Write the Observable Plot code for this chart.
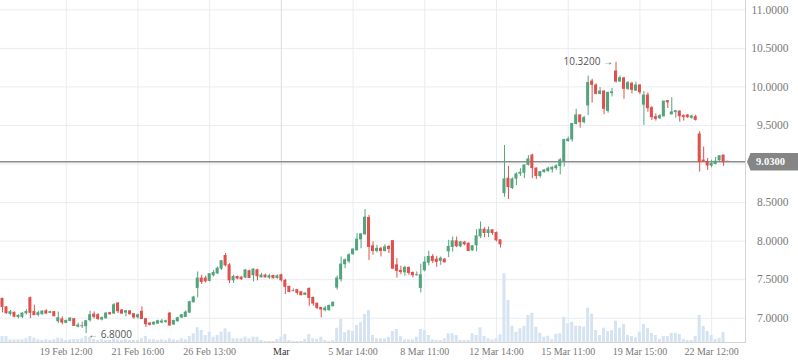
<!DOCTYPE html>
<html><head><meta charset="utf-8">
<script src="https://cdn.jsdelivr.net/npm/d3@7"></script>
<script src="https://cdn.jsdelivr.net/npm/@observablehq/plot@0.6"></script>
<style>
html,body{margin:0;padding:0;background:#fff;}
#chart{position:relative;width:798px;height:363px;}
#chart svg{position:absolute;left:0;top:0;}
</style></head><body><div id="chart"></div>
<script>
const open = [
7.25,7.14,7.056,7.07,7.017,7.017,7.065,7.26,7.08,7.043,
7.052,7.09,7.07,7.078,6.96,6.983,6.94,6.965,6.987,6.89,
6.896,6.896,6.974,7.047,7.039,6.983,7.0,7.065,7.06,7.19,
7.1,7.073,7.09,7.052,7.013,7.082,6.987,6.93,6.92,6.93,
6.944,6.952,7.06,6.918,6.96,7.009,7.017,7.073,7.207,7.393,
7.514,7.514,7.484,7.557,7.58,7.643,7.807,7.686,7.492,7.535,
7.527,7.527,7.609,7.557,7.622,7.53,7.553,7.527,7.548,7.522,
7.557,7.484,7.406,7.35,7.363,7.337,7.302,7.38,7.263,7.186,
7.134,7.104,7.104,7.155,7.397,7.505,7.7,7.738,7.83,7.88,
8.023,8.088,8.3,7.933,7.872,7.9,7.872,7.924,8.0,7.686,
7.613,7.596,7.652,7.587,7.557,7.393,7.622,7.721,7.795,7.76,
7.743,7.76,7.868,7.924,7.997,7.933,7.98,7.967,7.88,7.946,
8.062,8.148,8.105,8.14,8.105,8.01,8.623,8.81,8.688,8.81,
8.874,8.887,8.99,9.11,8.94,8.844,8.895,8.908,8.93,8.947,
8.973,9.04,9.297,9.318,9.52,9.63,9.543,9.76,10.07,10.018,
9.91,9.94,9.69,9.92,10.2,10.07,10.11,9.975,10.04,9.953,
10.018,9.77,9.888,9.724,9.607,9.595,9.617,9.815,9.643,9.673,
9.68,9.62,9.63,9.6,9.608,9.383,9.045,9.025,8.98,9.0,
9.047,9.11,9.03];
const close = [
7.145,7.065,7.078,7.02,7.03,7.06,7.08,7.07,7.04,7.065,
7.086,7.06,7.078,7.026,7.0,6.944,6.965,6.996,6.90,6.905,
6.896,6.96,7.039,7.017,6.99,7.0,7.06,7.052,7.168,7.09,
7.06,7.09,7.052,7.009,7.039,6.99,6.922,6.914,6.94,6.96,
6.957,6.96,6.905,6.965,7.0,7.039,7.073,7.207,7.268,7.514,
7.47,7.479,7.57,7.587,7.643,7.738,7.686,7.492,7.535,7.514,
7.505,7.62,7.522,7.63,7.544,7.553,7.53,7.544,7.518,7.544,
7.492,7.406,7.341,7.35,7.328,7.298,7.32,7.263,7.19,7.134,
7.112,7.125,7.16,7.2,7.514,7.695,7.751,7.816,7.89,8.019,
8.088,8.304,7.924,7.872,7.9,7.872,7.92,7.898,7.643,7.613,
7.6,7.652,7.587,7.557,7.557,7.557,7.721,7.795,7.743,7.73,
7.773,7.725,7.924,7.997,7.933,7.984,7.958,7.872,7.933,8.062,
8.148,8.105,8.14,8.105,8.01,7.958,8.8,8.70,8.8,8.865,
8.887,8.98,9.06,8.947,8.844,8.895,8.917,8.94,8.95,8.97,
9.047,9.31,9.318,9.52,9.63,9.543,9.595,10.05,10.027,9.91,
9.94,9.716,9.923,9.93,10.07,10.113,9.975,10.048,9.962,10.018,
9.93,9.888,9.724,9.607,9.586,9.62,9.81,9.80,9.67,9.685,
9.62,9.608,9.608,9.616,9.573,9.025,9.03,8.98,9.0,9.03,
9.1,9.025,9.03];
const high = [
7.26,7.15,7.10,7.08,7.045,7.07,7.11,7.275,7.17,7.09,
7.095,7.11,7.09,7.086,7.08,7.017,6.975,7.004,6.996,6.935,
6.95,6.974,7.09,7.082,7.06,7.017,7.073,7.078,7.19,7.203,
7.112,7.10,7.095,7.06,7.052,7.147,6.996,6.944,6.957,6.974,
6.983,6.974,7.073,6.974,7.013,7.047,7.095,7.22,7.285,7.6,
7.557,7.544,7.58,7.62,7.665,7.75,7.838,7.708,7.557,7.544,
7.535,7.63,7.622,7.643,7.635,7.583,7.57,7.57,7.557,7.561,
7.57,7.505,7.415,7.38,7.372,7.341,7.328,7.393,7.276,7.198,
7.138,7.155,7.168,7.212,7.548,7.795,7.77,7.838,7.9,8.097,
8.097,8.41,8.334,7.99,7.946,7.92,7.954,7.941,8.0,7.773,
7.674,7.674,7.665,7.6,7.6,7.7,7.795,7.868,7.825,7.803,
7.795,7.773,8.01,8.053,8.053,7.997,7.997,7.976,7.941,8.148,
8.248,8.174,8.183,8.148,8.118,8.019,9.24,8.97,8.82,8.887,
8.94,8.99,9.11,9.127,8.95,8.904,8.925,8.96,8.97,8.99,
9.07,9.322,9.35,9.52,9.71,9.638,9.62,10.14,10.10,10.04,
9.99,9.953,9.93,9.98,10.32,10.14,10.125,10.07,10.062,10.062,
10.031,9.94,9.923,9.745,9.65,9.64,9.81,9.823,9.86,9.69,
9.69,9.638,9.643,9.633,9.633,9.42,9.22,9.07,9.05,9.085,
9.11,9.11,9.03];
const low = [
7.07,7.05,7.03,7.005,6.99,6.995,7.04,6.995,7.035,7.017,
7.04,7.05,7.06,7.017,6.93,6.914,6.93,6.952,6.896,6.875,
6.866,6.80,6.95,6.99,6.97,6.965,6.987,7.039,7.052,7.06,
7.052,7.017,7.039,6.987,6.987,6.983,6.88,6.9,6.905,6.922,
6.93,6.935,6.896,6.905,6.952,6.996,7.009,7.06,7.198,7.263,
7.436,7.457,7.47,7.535,7.57,7.62,7.665,7.45,7.45,7.5,
7.492,7.514,7.514,7.47,7.484,7.522,7.522,7.505,7.51,7.505,
7.47,7.307,7.328,7.345,7.298,7.29,7.294,7.155,7.155,7.112,
7.004,7.082,7.09,7.147,7.363,7.47,7.643,7.708,7.816,7.872,
7.9,8.075,7.75,7.816,7.846,7.795,7.86,7.838,7.63,7.52,
7.565,7.544,7.557,7.522,7.544,7.328,7.6,7.678,7.708,7.66,
7.686,7.717,7.786,7.859,7.915,7.915,7.941,7.868,7.868,7.86,
8.032,8.045,8.045,8.075,7.99,7.91,8.57,8.54,8.67,8.72,
8.84,8.81,8.973,8.81,8.80,8.818,8.883,8.895,8.882,8.917,
8.86,8.96,9.284,9.284,9.508,9.465,9.52,9.63,9.79,9.897,
9.897,9.64,9.66,9.87,10.05,10.06,9.84,9.953,9.91,9.94,
9.9,9.5,9.67,9.565,9.557,9.578,9.617,9.72,9.643,9.595,
9.543,9.556,9.59,9.582,9.556,8.895,9.03,8.917,8.95,8.99,
9.035,8.97,9.03];
const volume = [
6,6,2.7,2.7,2.7,2.7,3.7,6,4.3,2.7,
2,2.7,2,2.7,4.3,3.7,2,2.7,3,3,
3.7,6,5.3,3,2,2.7,2,2,3.7,2.7,
2,2.7,2,2,2,3.7,6,2.7,3,2,
2.7,2,3.7,2.7,2,3.7,2.7,6,8.7,14.7,
12,7,10.3,5.3,7,10.3,13.7,10.3,3.7,3.7,
3.7,5.3,3.7,5.3,5.3,2,1,1,1,3,
5.3,8,2,1,1,1,3,8,3.7,3,
5.3,2,1,2,14.3,23,9.7,12,11,17,
19.7,28,32,7,3.7,3.7,3.7,5.3,11,13,
6,2.7,2.7,2.7,5.3,13,12,7,2.7,2,
2,3.7,8.7,8.7,7,2,2,2,8.7,7,
14.7,6,3.7,2.7,3.7,7.7,68.7,42,16.3,10.3,
13.7,16.3,27,29.3,15.3,9.3,5.3,6.3,3,8.3,
8.7,25,18.7,20.3,16.3,16.3,15.3,34.3,28.3,12,
7,14.3,11,12,21.3,14.3,18,7,6,4.7,
10.3,18,14,9,7,3,6,6,9,9,
8,3,2,2,6,27,16,11,7,3,
4,10,0];
const tickIndex = [16,34,52,70,88,106,124,142,160,178];
const tickLabels = ["19 Feb 12:00","21 Feb 16:00","26 Feb 13:00","Mar","5 Mar 14:00","8 Mar 11:00","12 Mar 14:00","15 Mar 11:00","19 Mar 15:00","22 Mar 12:00"];
const priceTicks = [7,7.5,8,8.5,9,9.5,10,10.5,11];
const priceDomain = [6.685, 11.121];
const volumeDomain = [0, 342];
const lastPrice = close[close.length - 1];

const GREEN = "#53a47c", RED = "#e0514e", GRAY = "#8a8a8a";
const candles = open.map((o, i) => ({i, o, h: high[i], l: low[i], c: close[i], v: volume[i]}));
const up = candles.filter(d => d.c > d.o);
const down = candles.filter(d => d.c < d.o);
const flat = candles.filter(d => d.c === d.o);
const xticks = tickIndex.map((i, k) => ({i, label: tickLabels[k]}));
const xDomain = [-0.5, candles.length + 3.5];
// the 9.0000 label sits under the last-price tag, so it is not shown
const labelTicks = priceTicks.filter(t => Math.abs(t - lastPrice) > 0.1);

const base = {
  width: 798, height: 363, marginLeft: 0, marginRight: 53, marginTop: 0, marginBottom: 21,
  x: {domain: xDomain, axis: null},
  style: {background: "transparent", overflow: "visible"}
};
const SERIF = "Liberation Serif, Times New Roman, serif";

// layer A: grid and axis lines
const gridPlot = Plot.plot({
  ...base,
  y: {domain: priceDomain, axis: null},
  marks: [
    Plot.ruleY(priceTicks, {y: d => d, stroke: "#e9ecf0", strokeWidth: 1}),
    Plot.ruleX(xticks.filter(d => d.label !== "Mar"), {x: "i", stroke: "#e9ecf0", strokeWidth: 1}),
    Plot.ruleX(xticks.filter(d => d.label === "Mar"), {x: "i", stroke: "#d9dce1", strokeWidth: 1}),
    Plot.frame({anchor: "bottom", stroke: "#d4d4d4"}),
    Plot.frame({anchor: "right", stroke: "#d4d4d4"})
  ]
});

// layer B: volume
const volPlot = Plot.plot({
  ...base,
  y: {domain: volumeDomain, axis: null},
  marks: [
    Plot.rect(candles, {x1: d => d.i - 0.38, x2: d => d.i + 0.38, y1: d => 0, y2: "v", fill: "#d6e4f2"})
  ]
});

// layer C: candles and labels
const tagSymbol = {
  draw(context) {
    context.moveTo(-26, 0);
    context.lineTo(-22.5, -8.7);
    context.lineTo(27, -8.7);
    context.lineTo(27, 8.7);
    context.lineTo(-22.5, 8.7);
    context.closePath();
  }
};
const hiIdx = d3.maxIndex(high), loIdx = d3.minIndex(low);
const bodyOpts = (fill) => ({x1: d => d.i - 0.38, x2: d => d.i + 0.38, y1: "o", y2: "c", fill, insetTop: -0.5, insetBottom: -0.5});
const wickOpts = (stroke) => ({x: "i", y1: "l", y2: "h", stroke, strokeWidth: 1});

const mainPlot = Plot.plot({
  ...base,
  y: {domain: priceDomain, axis: null},
  marks: [
    Plot.ruleY([lastPrice], {y: d => d, stroke: "#8c8c8c", strokeWidth: 1.4}),
    Plot.ruleX(up, wickOpts(GREEN)),
    Plot.ruleX(down, wickOpts(RED)),
    Plot.ruleX(flat, wickOpts(GRAY)),
    Plot.rect(up, bodyOpts(GREEN)),
    Plot.rect(down, bodyOpts(RED)),
    Plot.rect(flat, bodyOpts(GRAY)),
    Plot.text([hiIdx], {x: d => d, y: d => high[d], text: d => high[d].toFixed(4) + " \u2192", textAnchor: "end", dx: -3, fill: "#555", fontSize: 10, fontFamily: "Open Sans, sans-serif"}),
    Plot.text([loIdx], {x: d => d, y: d => low[d], text: d => "\u2190 " + low[d].toFixed(4), textAnchor: "start", dx: 2, dy: 1, fill: "#555", fontSize: 10, fontFamily: "Open Sans, sans-serif"}),
    Plot.text(labelTicks, {y: d => d, text: d => d.toFixed(4), frameAnchor: "right", dx: 43, textAnchor: "end", fill: "#7a7a7a", fontSize: 11.5, fontFamily: SERIF}),
    Plot.text(xticks.filter(d => d.label !== "Mar"), {x: "i", text: "label", frameAnchor: "bottom", dy: 12, textAnchor: "middle", fill: "#777", fontSize: 10, fontFamily: SERIF}),
    Plot.text(xticks.filter(d => d.label === "Mar"), {x: "i", text: "label", frameAnchor: "bottom", dy: 12, textAnchor: "middle", fill: "#333", fontSize: 10, fontFamily: SERIF}),
    Plot.dot([lastPrice], {y: d => d, frameAnchor: "right", dx: 27.5, symbol: tagSymbol, r: 10, fill: "#858585", stroke: "none"}),
    Plot.text([lastPrice], {y: d => d, text: d => d.toFixed(4), frameAnchor: "right", dx: 25, textAnchor: "middle", fill: "#fff", fontWeight: "bold", fontSize: 10.5, fontFamily: SERIF})
  ]
});

const chart = document.getElementById("chart");
chart.appendChild(gridPlot);
chart.appendChild(volPlot);
chart.appendChild(mainPlot);
</script></body></html>
